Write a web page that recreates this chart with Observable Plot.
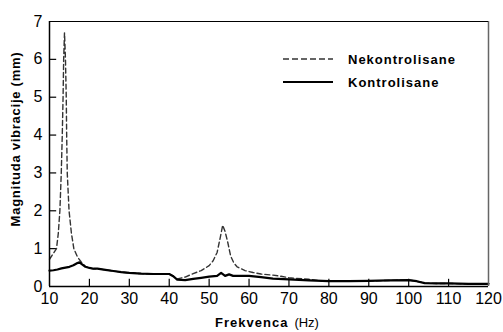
<!DOCTYPE html>
<html>
<head>
<meta charset="utf-8">
<script src="https://cdn.jsdelivr.net/npm/d3@7"></script>
<script src="https://cdn.jsdelivr.net/npm/@observablehq/plot@0.6"></script>
<style>
  html, body { margin: 0; padding: 0; background: #fff; }
  #chart svg { display: block; }
</style>
</head>
<body>
<div id="chart"></div>
<script>
// Frequency (Hz) and vibration magnitude (mm)
const freqKontrolisane = [10, 11, 12, 13, 14, 15, 16, 17, 17.5, 18, 19, 20, 21, 22, 24, 26, 28, 30, 33, 36, 40, 41, 42, 44, 46, 48, 50, 52, 53, 54, 55, 56, 58, 60, 63, 66, 70, 75, 80, 85, 90, 95, 100, 102, 104, 107, 110, 115, 120];
const valKontrolisane  = [0.42, 0.43, 0.45, 0.48, 0.50, 0.52, 0.56, 0.62, 0.64, 0.60, 0.52, 0.49, 0.47, 0.47, 0.44, 0.41, 0.38, 0.36, 0.34, 0.33, 0.33, 0.27, 0.18, 0.17, 0.20, 0.23, 0.26, 0.28, 0.36, 0.28, 0.32, 0.28, 0.28, 0.28, 0.25, 0.21, 0.19, 0.16, 0.14, 0.14, 0.15, 0.16, 0.17, 0.14, 0.09, 0.08, 0.08, 0.07, 0.07];

const freqNekontrolisane = [10, 11, 11.75, 12.2, 12.6, 12.95, 13.2, 13.4, 13.55, 13.76, 14.0, 14.2, 14.3, 14.45, 14.9, 15.5, 16.1, 17, 18, 19, 20, 21, 22, 24, 26, 28, 30, 33, 36, 40, 41, 42, 44, 46, 48, 50, 51, 52, 52.8, 53.4, 54, 54.6, 55.4, 56.2, 57, 59, 61, 63, 66, 68, 70, 75, 78, 80, 85, 90, 95, 100, 102, 104, 107, 110, 115, 120];
const valNekontrolisane  = [0.72, 0.88, 1.0, 1.4, 2.0, 3.0, 4.0, 5.0, 6.0, 6.7, 6.0, 5.0, 4.0, 3.0, 2.0, 1.4, 1.0, 0.78, 0.64, 0.53, 0.49, 0.47, 0.47, 0.44, 0.41, 0.38, 0.36, 0.34, 0.33, 0.33, 0.28, 0.20, 0.25, 0.34, 0.42, 0.55, 0.68, 0.90, 1.3, 1.62, 1.45, 1.2, 0.8, 0.62, 0.52, 0.42, 0.37, 0.33, 0.30, 0.27, 0.23, 0.19, 0.15, 0.14, 0.14, 0.15, 0.16, 0.17, 0.14, 0.09, 0.08, 0.08, 0.07, 0.07];

const xTicks = [10, 20, 30, 40, 50, 60, 70, 80, 90, 100, 110, 120];
const yTicks = [0, 1, 2, 3, 4, 5, 6, 7];

const seriesNames = ["Nekontrolisane", "Kontrolisane"];
const xLabel = "Frekvenca";
const xUnit = "(Hz)";
const yLabel = "Magnituda vibracije (mm)";

const dataK = freqKontrolisane.map((f, i) => ({f, v: valKontrolisane[i]}));
const dataN = freqNekontrolisane.map((f, i) => ({f, v: valNekontrolisane[i]}));

const font = "'Liberation Sans', Arial, Helvetica, sans-serif";

const chart = Plot.plot({
  width: 503,
  height: 332,
  marginLeft: 49,
  marginRight: 15,
  marginTop: 21,
  marginBottom: 46,
  style: {fontFamily: font, background: "#fff", color: "#000"},
  x: {domain: [10, 120], label: null},
  y: {domain: [0, 7], label: null},
  marks: [
    Plot.axisX({ticks: xTicks, tickSize: 0, tickPadding: 6, fontSize: 16, label: null, tickFormat: d => String(d)}),
    Plot.axisY({ticks: yTicks, tickSize: 0, tickPadding: 7, fontSize: 16, label: null, tickFormat: d => String(d)}),
    Plot.ruleX(xTicks.slice(1, -1), {x: d => d, y1: 0, y2: 0.19, stroke: "#000", strokeWidth: 1.2}),
    Plot.ruleY(yTicks.slice(1, -1), {y: d => d, x1: 10, x2: 11.8, stroke: "#000", strokeWidth: 1.2}),
    Plot.line(dataN, {x: "f", y: "v", stroke: "#333", strokeWidth: 1.4, strokeDasharray: "5,3"}),
    Plot.line(dataK, {x: "f", y: "v", stroke: "#000", strokeWidth: 2.2}),
    Plot.ruleX([120], {stroke: "#666", strokeWidth: 1.5}),
    Plot.ruleY([7], {stroke: "#000", strokeWidth: 1.2}),
    Plot.ruleY([0], {stroke: "#000", strokeWidth: 1.5}),
    Plot.ruleX([10], {stroke: "#000", strokeWidth: 1.5})
  ]
});

const svg = d3.select(chart);
// Legend
const leg = svg.append("g").attr("font-family", font).attr("font-weight", "bold").attr("font-size", 13)
  .attr("letter-spacing", "1px").attr("text-anchor", "start");
leg.append("line").attr("x1", 283).attr("x2", 333).attr("y1", 59).attr("y2", 59)
  .attr("stroke", "#333").attr("stroke-width", 1.4).attr("stroke-dasharray", "6,3");
leg.append("text").attr("x", 348).attr("y", 59).attr("dy", "0.35em").text(seriesNames[0]);
leg.append("line").attr("x1", 283).attr("x2", 333).attr("y1", 82).attr("y2", 82)
  .attr("stroke", "#000").attr("stroke-width", 2.2);
leg.append("text").attr("x", 348).attr("y", 82).attr("dy", "0.35em").text(seriesNames[1]);

// Axis titles
const xt = svg.append("text").attr("x", 267).attr("y", 327).attr("text-anchor", "middle")
  .attr("font-family", font).attr("font-size", 13);
xt.append("tspan").attr("font-weight", "bold").attr("letter-spacing", "1px").text(xLabel);
xt.append("tspan").attr("dx", 6).text(xUnit);

svg.append("text").attr("transform", "translate(20,139) rotate(-90)").attr("text-anchor", "middle")
  .attr("font-family", font).attr("font-size", 13).attr("font-weight", "bold").attr("letter-spacing", "0.75px")
  .text(yLabel);

document.getElementById("chart").appendChild(chart);
</script>
</body>
</html>
